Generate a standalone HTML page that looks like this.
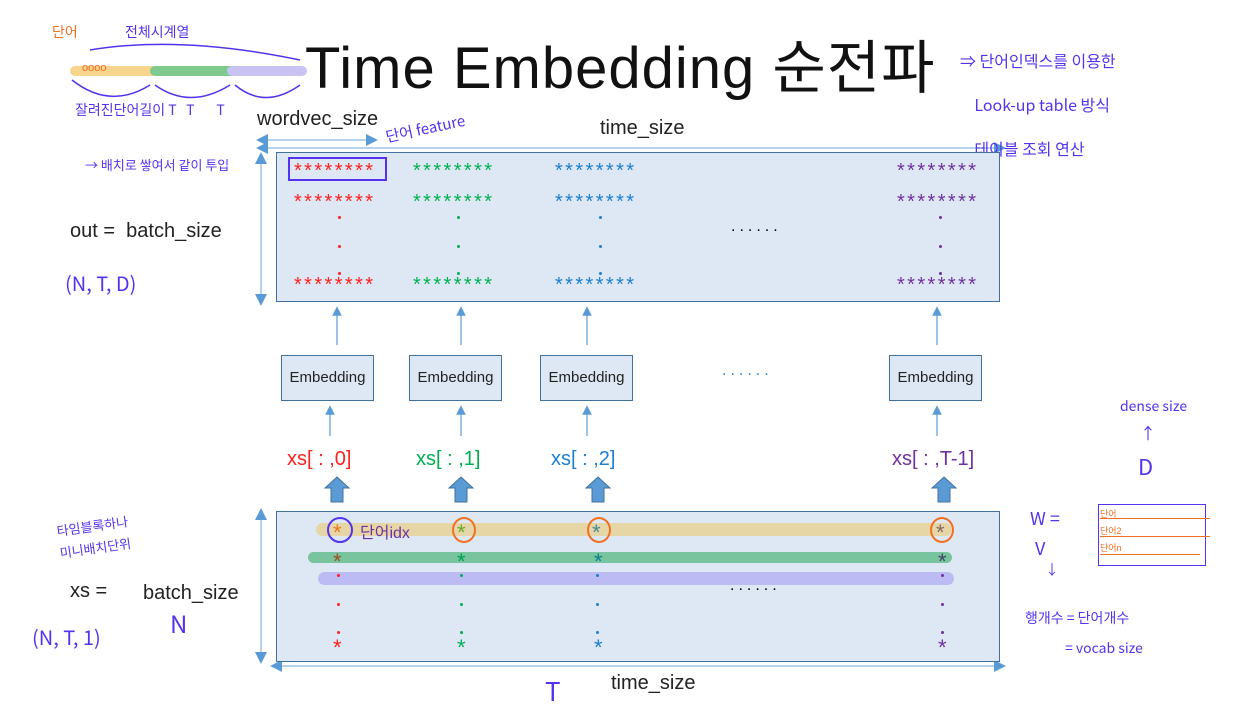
<!DOCTYPE html>
<html><head><meta charset="utf-8"><style>
body{margin:0;width:1256px;height:703px;background:#fff;position:relative;overflow:hidden;font-family:"Liberation Sans","Noto Sans CJK KR",sans-serif}
.a{position:absolute;white-space:nowrap}
.box{position:absolute;background:#dee8f4;border:1.5px solid #41719c}
.emb{position:absolute;width:91px;height:44px;background:#dee8f4;border:1px solid #41719c;font-size:15px;line-height:44px;text-align:center;color:#222}
.st{position:absolute;font-size:20px;line-height:20px;letter-spacing:2.4px;white-space:nowrap}
.s1{position:absolute;font-size:22px;line-height:22px}
.d{position:absolute;width:3px;height:3px;border-radius:50%}
.hw{color:#5533ee;font-family:"Noto Sans CJK KR",sans-serif}
</style></head><body>
<div class="a" style="left:305px;top:21px;font-size:58px;letter-spacing:1px;color:#111">Time Embedding 순전파</div>

<svg class="a" style="left:0;top:0" width="1256" height="703">
<defs><marker id="m" markerWidth="8" markerHeight="8" refX="4" refY="4" orient="auto"><path d="M0,0L8,4L0,8z" fill="#5b9bd5"/></marker>
<marker id="ms" markerWidth="8" markerHeight="8" refX="4" refY="4" orient="auto-start-reverse"><path d="M0,0L8,4L0,8z" fill="#5b9bd5"/></marker></defs>
<line x1="75" y1="71" x2="155" y2="71" stroke="#f8d58e" stroke-width="10" stroke-linecap="round"/>
<line x1="155" y1="71" x2="232" y2="71" stroke="#7fcb8f" stroke-width="10" stroke-linecap="round"/>
<line x1="232" y1="71" x2="302" y2="71" stroke="#c9c3f3" stroke-width="10" stroke-linecap="round"/>
<path d="M72,80 Q110,110 150,85 M155,85 Q190,110 230,85 M235,85 Q265,110 300,85" stroke="#5533ee" fill="none" stroke-width="1.5"/>
<path d="M90,50 Q180,35 300,60" stroke="#5533ee" fill="none" stroke-width="1.5"/>
<line x1="262" y1="148" x2="1000" y2="148" stroke="#9dc3e6" stroke-width="1.5" marker-start="url(#ms)" marker-end="url(#ms)"/>
<line x1="262" y1="140" x2="372" y2="140" stroke="#9dc3e6" stroke-width="1.5" marker-start="url(#ms)" marker-end="url(#ms)"/>
<line x1="261" y1="158" x2="261" y2="300" stroke="#9dc3e6" stroke-width="1.5" marker-start="url(#ms)" marker-end="url(#ms)"/>
<line x1="261" y1="514" x2="261" y2="658" stroke="#9dc3e6" stroke-width="1.5" marker-start="url(#ms)" marker-end="url(#ms)"/>
<line x1="276" y1="666" x2="1000" y2="666" stroke="#9dc3e6" stroke-width="1.5" marker-start="url(#ms)" marker-end="url(#ms)"/>
<g stroke="#5b9bd5" stroke-width="1.2" marker-end="url(#m)">
<line x1="337" y1="345" x2="337" y2="311"/><line x1="461" y1="345" x2="461" y2="311"/><line x1="587" y1="345" x2="587" y2="311"/><line x1="937" y1="345" x2="937" y2="311"/>
<line x1="330" y1="436" x2="330" y2="410"/><line x1="461" y1="436" x2="461" y2="410"/><line x1="587" y1="436" x2="587" y2="410"/><line x1="937" y1="436" x2="937" y2="410"/>
</g>
<g fill="#5b9bd5" stroke="#41719c">
<path d="M337,477 l12,11 h-6 v14 h-12 v-14 h-6z"/><path d="M461,477 l12,11 h-6 v14 h-12 v-14 h-6z"/><path d="M598,477 l12,11 h-6 v14 h-12 v-14 h-6z"/><path d="M944,477 l12,11 h-6 v14 h-12 v-14 h-6z"/>
</g>
</svg>

<div class="a" style="left:52px;top:22px;color:#f07020;font-size:14px">단어</div>
<div class="a hw" style="left:125px;top:22px;font-size:14px">전체시계열</div>
<div class="a" style="left:82px;top:62px;color:#f07020;font-size:11px">oooo</div>
<div class="a hw" style="left:75px;top:100px;font-size:14px">잘려진단어길이 T &nbsp; T &nbsp;&nbsp;&nbsp;&nbsp;&nbsp; T</div>
<div class="a hw" style="left:85px;top:155px;font-size:13px">→ 배치로 쌓여서 같이 투입</div>
<div class="a hw" style="left:960px;top:38px;font-size:16px;line-height:44px">⇒ 단어인덱스를 이용한<br>&nbsp;&nbsp;&nbsp; Look-up table 방식<br>&nbsp;&nbsp;&nbsp; 테이블 조회 연산</div>

<div class="a" style="left:257px;top:108px;font-size:20px;color:#222">wordvec_size</div>
<div class="a hw" style="left:385px;top:118px;font-size:15px;transform:rotate(-12deg)">단어 feature</div>
<div class="a" style="left:600px;top:117px;font-size:20px;color:#222">time_size</div>

<div class="box" style="left:276px;top:152px;width:722px;height:148px"></div>
<div class="a" style="left:288px;top:157px;width:95px;height:20px;border:2px solid #5533ee"></div>

<div class="st" style="left:294px;top:156px;color:#ff2020;line-height:31px">********<br>********</div>
<div class="st" style="left:413px;top:156px;color:#00b050;line-height:31px">********<br>********</div>
<div class="st" style="left:555px;top:156px;color:#1c7fd0;line-height:31px">********<br>********</div>
<div class="st" style="left:897px;top:156px;color:#7030a0;line-height:31px">********<br>********</div>
<div class="st" style="left:294px;top:275px;color:#ff2020">********</div>
<div class="st" style="left:413px;top:275px;color:#00b050">********</div>
<div class="st" style="left:555px;top:275px;color:#1c7fd0">********</div>
<div class="st" style="left:897px;top:275px;color:#7030a0">********</div>

<div class="d" style="left:338px;top:216px;background:#ff2020"></div><div class="d" style="left:338px;top:245px;background:#ff2020"></div><div class="d" style="left:338px;top:272px;background:#ff2020"></div>
<div class="d" style="left:457px;top:216px;background:#00b050"></div><div class="d" style="left:457px;top:245px;background:#00b050"></div><div class="d" style="left:457px;top:272px;background:#00b050"></div>
<div class="d" style="left:599px;top:216px;background:#1c7fd0"></div><div class="d" style="left:599px;top:245px;background:#1c7fd0"></div><div class="d" style="left:599px;top:272px;background:#1c7fd0"></div>
<div class="d" style="left:939px;top:216px;background:#7030a0"></div><div class="d" style="left:939px;top:245px;background:#7030a0"></div><div class="d" style="left:939px;top:272px;background:#7030a0"></div>
<div class="a" style="left:731px;top:218px;font-size:16px;letter-spacing:4px">......</div>

<div class="a" style="left:70px;top:220px;font-size:20px;color:#222">out =&nbsp; batch_size</div>
<div class="a hw" style="left:65px;top:268px;font-size:20px">(N, T, D)</div>

<div class="emb" style="left:281px;top:355px">Embedding</div>
<div class="emb" style="left:409px;top:355px">Embedding</div>
<div class="emb" style="left:540px;top:355px">Embedding</div>
<div class="emb" style="left:889px;top:355px">Embedding</div>
<div class="a" style="left:722px;top:362px;font-size:16px;letter-spacing:4px;color:#1c7fd0">......</div>

<div class="a" style="left:287px;top:448px;font-size:20px;color:#ff2020">xs[ : ,0]</div>
<div class="a" style="left:416px;top:448px;font-size:20px;color:#00b050">xs[ : ,1]</div>
<div class="a" style="left:551px;top:448px;font-size:20px;color:#1c7fd0">xs[ : ,2]</div>
<div class="a" style="left:892px;top:448px;font-size:20px;color:#7030a0">xs[ : ,T-1]</div>

<div class="box" style="left:276px;top:511px;width:722px;height:149px"></div>
<div class="a" style="left:316px;top:523px;width:636px;height:13px;border-radius:7px;background:#e6d6a6"></div>
<div class="a" style="left:308px;top:552px;width:644px;height:11px;border-radius:6px;background:#77c49e"></div>
<div class="a" style="left:318px;top:572px;width:636px;height:13px;border-radius:7px;background:#bcbbf3"></div>
<div class="a" style="left:327px;top:517px;width:22px;height:22px;border:2px solid #5533ee;border-radius:50%"></div>
<div class="a" style="left:452px;top:517px;width:20px;height:22px;border:2px solid #f07020;border-radius:50%"></div>
<div class="a" style="left:587px;top:517px;width:20px;height:22px;border:2px solid #f07020;border-radius:50%"></div>
<div class="a" style="left:930px;top:517px;width:20px;height:22px;border:2px solid #f07020;border-radius:50%"></div>
<div class="a" style="left:360px;top:519px;font-size:16px;color:#7030a0">단어idx</div>
<div class="s1" style="left:333px;top:522px;color:#f07020">*</div>
<div class="s1" style="left:457px;top:522px;color:#6a3">*</div>
<div class="s1" style="left:592px;top:522px;color:#489">*</div>
<div class="s1" style="left:936px;top:522px;color:#866">*</div>
<div class="s1" style="left:333px;top:551px;color:#a05020">*</div>
<div class="s1" style="left:457px;top:551px;color:#00a050">*</div>
<div class="s1" style="left:594px;top:551px;color:#0a8090">*</div>
<div class="s1" style="left:938px;top:551px;color:#446">*</div>
<div class="d" style="left:337px;top:574px;background:#ff2020"></div><div class="d" style="left:337px;top:603px;background:#ff2020"></div><div class="d" style="left:337px;top:631px;background:#ff2020"></div>
<div class="d" style="left:460px;top:574px;background:#00b050"></div><div class="d" style="left:460px;top:603px;background:#00b050"></div><div class="d" style="left:460px;top:631px;background:#00b050"></div>
<div class="d" style="left:596px;top:574px;background:#1c7fd0"></div><div class="d" style="left:596px;top:603px;background:#1c7fd0"></div><div class="d" style="left:596px;top:631px;background:#1c7fd0"></div>
<div class="d" style="left:941px;top:574px;background:#7030a0"></div><div class="d" style="left:941px;top:603px;background:#7030a0"></div><div class="d" style="left:941px;top:631px;background:#7030a0"></div>
<div class="s1" style="left:333px;top:637px;color:#ff2020">*</div>
<div class="s1" style="left:457px;top:637px;color:#00b050">*</div>
<div class="s1" style="left:594px;top:637px;color:#1c7fd0">*</div>
<div class="s1" style="left:938px;top:637px;color:#7030a0">*</div>
<div class="a" style="left:730px;top:577px;font-size:16px;letter-spacing:4px">......</div>

<div class="a hw" style="left:58px;top:515px;font-size:13px;line-height:22px;transform:rotate(-8deg)">타임블록하나<br>미니배치단위</div>
<div class="a" style="left:70px;top:580px;font-size:20px;color:#222">xs =</div>
<div class="a" style="left:143px;top:582px;font-size:20px;color:#222">batch_size</div>
<div class="a hw" style="left:170px;top:605px;font-size:24px">N</div>
<div class="a hw" style="left:32px;top:622px;font-size:20px">(N, T, 1)</div>
<div class="a hw" style="left:545px;top:672px;font-size:26px">T</div>
<div class="a" style="left:611px;top:672px;font-size:20px;color:#222">time_size</div>

<div class="a hw" style="left:1120px;top:396px;font-size:14px">dense size</div>
<div class="a hw" style="left:1140px;top:420px;font-size:16px">↑</div>
<div class="a hw" style="left:1138px;top:450px;font-size:22px">D</div>
<div class="a hw" style="left:1030px;top:505px;font-size:18px">W =</div>
<div class="a hw" style="left:1035px;top:535px;font-size:18px">V</div>
<div class="a hw" style="left:1045px;top:560px;font-size:14px">↓</div>
<div class="a" style="left:1098px;top:504px;width:106px;height:60px;border:1.5px solid #5533ee"></div>
<div class="a" style="left:1100px;top:506px;font-size:9px;color:#f07020;line-height:17px">단어<br>단어2<br>단어n</div>
<div class="a" style="left:1100px;top:518px;width:110px;border-top:1.5px solid #f07020"></div>
<div class="a" style="left:1100px;top:536px;width:110px;border-top:1.5px solid #f07020"></div>
<div class="a" style="left:1100px;top:554px;width:100px;border-top:1.5px solid #f07020"></div>
<div class="a hw" style="left:1025px;top:608px;font-size:14px">행개수 = 단어개수</div>
<div class="a hw" style="left:1065px;top:638px;font-size:14px">= vocab size</div>
</body></html>
